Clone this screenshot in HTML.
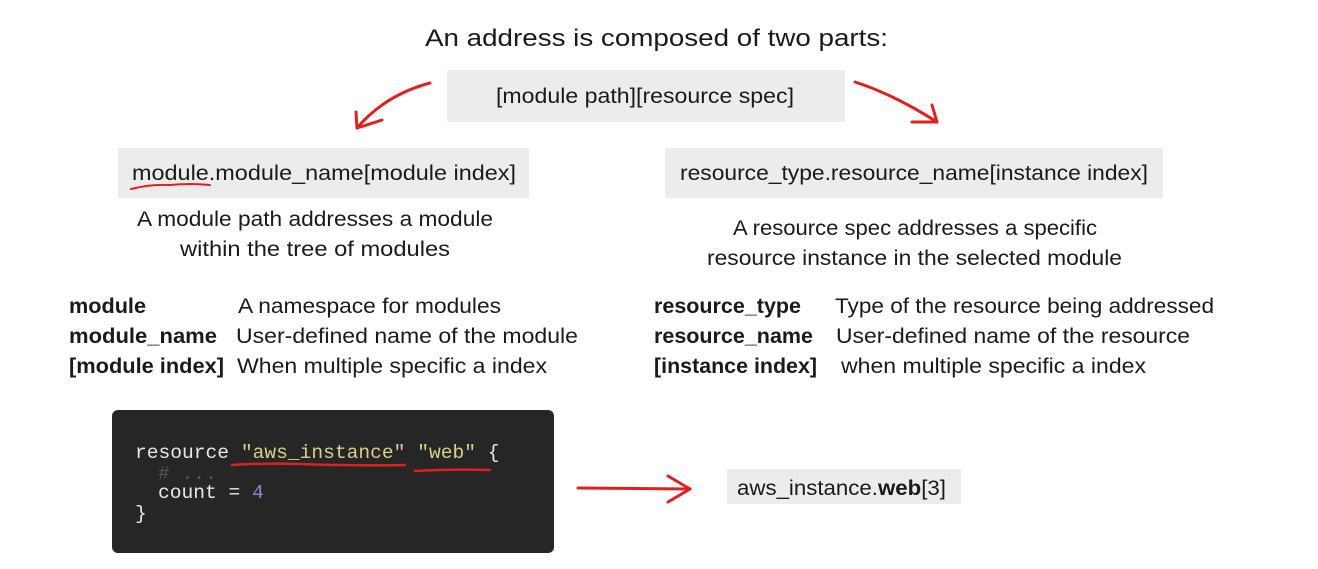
<!DOCTYPE html>
<html><head><meta charset="utf-8"><style>
html,body{margin:0;padding:0;background:#fff;}
svg{display:block;}
.t{font-family:"Liberation Sans",sans-serif;fill:#1a1a1a;}
.b{font-weight:bold;}
.m{font-family:"Liberation Mono",monospace;font-size:19.6px;}
</style></head><body>
<svg width="1318" height="569" viewBox="0 0 1318 569" xmlns="http://www.w3.org/2000/svg">
<rect width="1318" height="569" fill="#fff"/>
<text class="t" x="425" y="46" font-size="24" textLength="463" lengthAdjust="spacingAndGlyphs">An address is composed of two parts:</text>
<rect x="447" y="70" width="398" height="52" fill="#ececec"/>
<text class="t" x="496" y="103" font-size="21" textLength="298" lengthAdjust="spacingAndGlyphs">[module path][resource spec]</text>

<rect x="118" y="148" width="411" height="50" fill="#ececec"/>
<text class="t" x="132" y="180" font-size="21" textLength="384" lengthAdjust="spacingAndGlyphs">module.module_name[module index]</text>
<rect x="665" y="148" width="498" height="50" fill="#ececec"/>
<text class="t" x="680" y="180" font-size="21" textLength="468" lengthAdjust="spacingAndGlyphs">resource_type.resource_name[instance index]</text>

<text class="t" x="137" y="226" font-size="21" textLength="356" lengthAdjust="spacingAndGlyphs">A module path addresses a module</text>
<text class="t" x="180" y="256" font-size="21" textLength="270" lengthAdjust="spacingAndGlyphs">within the tree of modules</text>
<text class="t" x="733" y="235" font-size="21" textLength="364" lengthAdjust="spacingAndGlyphs">A resource spec addresses a specific</text>
<text class="t" x="707" y="265" font-size="21" textLength="415" lengthAdjust="spacingAndGlyphs">resource instance in the selected module</text>

<g font-size="21">
<text class="t b" x="69" y="313" textLength="77" lengthAdjust="spacingAndGlyphs">module</text>
<text class="t b" x="69" y="343" textLength="148" lengthAdjust="spacingAndGlyphs">module_name</text>
<text class="t b" x="69" y="373" textLength="155" lengthAdjust="spacingAndGlyphs">[module index]</text>
<text class="t" x="238" y="313" textLength="263" lengthAdjust="spacingAndGlyphs">A namespace for modules</text>
<text class="t" x="236" y="343" textLength="342" lengthAdjust="spacingAndGlyphs">User-defined name of the module</text>
<text class="t" x="237" y="373" textLength="310" lengthAdjust="spacingAndGlyphs">When multiple specific a index</text>
<text class="t b" x="654" y="313" textLength="147" lengthAdjust="spacingAndGlyphs">resource_type</text>
<text class="t b" x="654" y="343" textLength="159" lengthAdjust="spacingAndGlyphs">resource_name</text>
<text class="t b" x="654" y="373" textLength="163" lengthAdjust="spacingAndGlyphs">[instance index]</text>
<text class="t" x="835" y="313" textLength="379" lengthAdjust="spacingAndGlyphs">Type of the resource being addressed</text>
<text class="t" x="836" y="343" textLength="354" lengthAdjust="spacingAndGlyphs">User-defined name of the resource</text>
<text class="t" x="841" y="373" textLength="305" lengthAdjust="spacingAndGlyphs">when multiple specific a index</text>
</g>

<rect x="112" y="410" width="442" height="143" rx="6" fill="#262626"/>
<text class="m" x="135" y="458" fill="#e8e8e8">resource <tspan fill="#d8d08a">"aws_instance"</tspan> <tspan fill="#d8d08a">"web"</tspan> {</text>
<text class="m" x="158" y="479" fill="#555" font-size="16">#  ...</text>
<text class="m" x="158" y="498" fill="#e8e8e8">count = <tspan fill="#9a7fd6">4</tspan></text>
<text class="m" x="135" y="519" fill="#e8e8e8">}</text>

<rect x="727" y="469" width="234" height="35" fill="#ececec"/>
<text class="t" x="737" y="495" font-size="21" textLength="209" lengthAdjust="spacingAndGlyphs">aws_instance.<tspan font-weight="bold">web</tspan>[3]</text>

<g stroke="#e02020" stroke-width="3" fill="none" stroke-linecap="round" stroke-linejoin="round">
<path d="M430 83 Q385 95 357 128"/>
<path d="M357 128 L356 112 M357 128 L382 120"/>
<path d="M855 82 Q895 95 937 122"/>
<path d="M937 122 L932 105 M937 122 L912 122"/>
<path d="M578 488 L690 489"/>
<path d="M690 489 L668 476 M690 489 L668 502"/>
<path d="M131 189 Q150 184 170 185 Q190 183 210 185" stroke-width="2"/>
<path d="M232 465 Q260 463 300 464 Q360 466 405 465" stroke-width="2.5"/>
<path d="M415 471 Q450 469 490 470" stroke-width="2.5"/>
</g>
</svg>
</body></html>
